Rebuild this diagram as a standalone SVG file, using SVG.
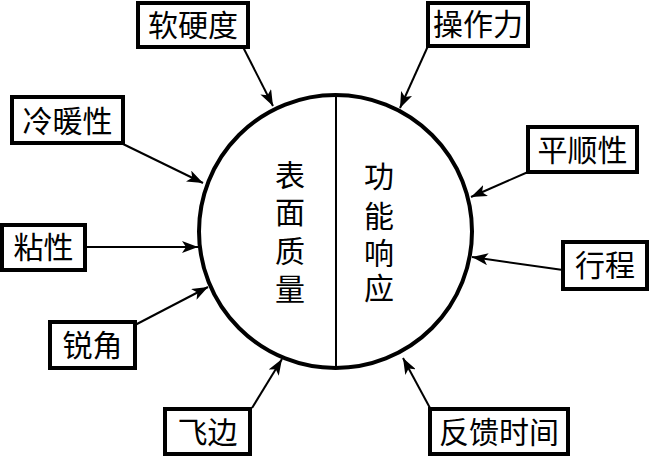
<svg xmlns="http://www.w3.org/2000/svg" width="651" height="456" viewBox="0 0 651 456">
<defs>
<marker id="ah" markerUnits="userSpaceOnUse" markerWidth="18" markerHeight="12" refX="16" refY="6" orient="auto">
<path d="M0,0 L16,6 L0,12 L4,6 Z" fill="#000"/>
</marker>
<style>
.box{fill:#fff;stroke:#000;stroke-width:4}
.t{font-family:"Liberation Serif","Noto Sans CJK SC",serif;font-size:30px;fill:#000;text-anchor:middle;dominant-baseline:central}
.c{stroke:#000;stroke-width:2;fill:none;marker-end:url(#ah)}
</style>
</defs>
<rect width="651" height="456" fill="#fff"/>
<g id="center">
<circle cx="335.5" cy="231.5" r="136.5" fill="#fff" stroke="#000" stroke-width="4"/>
<line x1="336" y1="95" x2="336" y2="368" stroke="#000" stroke-width="2"/>
<text class="t" x="290" y="175">表</text>
<text class="t" x="290" y="212">面</text>
<text class="t" x="290" y="251">质</text>
<text class="t" x="290" y="289">量</text>
<text class="t" x="379" y="176">功</text>
<text class="t" x="379" y="216">能</text>
<text class="t" x="379" y="253">响</text>
<text class="t" x="379" y="288">应</text>
</g>
<g id="connectors">
<line class="c" x1="243" y1="47" x2="273" y2="106"/>
<line class="c" x1="428" y1="46" x2="400" y2="108"/>
<line class="c" x1="123" y1="144" x2="203" y2="183"/>
<line class="c" x1="528" y1="172" x2="471" y2="197"/>
<line class="c" x1="563" y1="270" x2="472" y2="257"/>
<line class="c" x1="85" y1="247" x2="198" y2="247"/>
<line class="c" x1="135" y1="325" x2="208" y2="287"/>
<line class="c" x1="252" y1="408" x2="282" y2="359"/>
<line class="c" x1="430" y1="408" x2="403" y2="358"/>
</g>
<g id="n-ruanyingdu"><rect class="box" x="138" y="3" width="110" height="44"/><text class="t" x="193" y="25">软硬度</text></g>
<g id="n-caozuoli"><rect class="box" x="428" y="3" width="100" height="43"/><text class="t" x="478" y="24">操作力</text></g>
<g id="n-lengnuanxing"><rect class="box" x="12" y="97" width="111" height="46"/><text class="t" x="67.5" y="121">冷暖性</text></g>
<g id="n-pingshunxing"><rect class="box" x="528" y="127" width="109" height="45"/><text class="t" x="582.5" y="150">平顺性</text></g>
<g id="n-xingcheng"><rect class="box" x="563" y="242" width="84" height="47"/><text class="t" x="605" y="265">行程</text></g>
<g id="n-nianxing"><rect class="box" x="2" y="225" width="83" height="45"/><text class="t" x="43.5" y="247">粘性</text></g>
<g id="n-ruijiao"><rect class="box" x="50" y="322" width="85" height="46"/><text class="t" x="92.5" y="345">锐角</text></g>
<g id="n-feibian"><rect class="box" x="165" y="409" width="85" height="45"/><text class="t" x="207.5" y="432">飞边</text></g>
<g id="n-fankuishijian"><rect class="box" x="430" y="409" width="138" height="45"/><text class="t" x="499" y="432">反馈时间</text></g>
</svg>
